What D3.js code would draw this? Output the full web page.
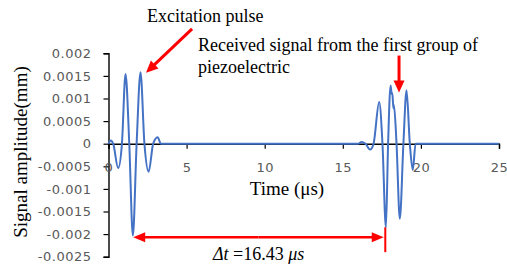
<!DOCTYPE html>
<html><head><meta charset="utf-8">
<script src="https://cdn.jsdelivr.net/npm/d3@7/dist/d3.min.js"></script>
<style>body{margin:0;background:#fff}</style>
</head><body><svg id="c" width="507" height="268"></svg>
<script>
// Signal: time (µs) and amplitude (mm)
const timeUs = [0, 0.15, 0.3, 0.62, 0.86, 1.09, 1.33, 1.56, 1.8, 2.05, 2.3, 2.57, 2.86, 3.15, 3.35,
  16.0, 16.2, 16.45, 16.75, 16.97, 17.33, 17.54, 17.76, 17.9, 18.06, 18.13, 18.17, 18.24, 18.27, 18.44,
  18.65, 18.88, 19.08, 19.29, 19.48, 19.66, 25];
const amplitudeMm = [0, 0.00007, 0, -0.00054, 0, 0.00154, 0, -0.00203, 0, 0.00158, 0, -0.00062, 0, 0.00014, 0,
  0, 0.00004, 0, -0.00013, 0, 0.00092, 0, -0.00185, 0, 0.00129, 0.0011, 0.00112, 0.00078, 0.00086, 0,
  -0.00166, 0, 0.00118, 0, -0.00058, 0, 0];
const xTicks = [0, 5, 10, 15, 20, 25];
const yTicks = [0.002, 0.0015, 0.001, 0.0005, 0, -0.0005, -0.001, -0.0015, -0.002, -0.0025];
const yTickLabels = ["0.002", "0.0015", "0.001", "0.0005", "0", "-0.0005", "-0.001", "-0.0015", "-0.002", "-0.0025"];
const xTitle = "Time (μs)";
const yTitle = "Signal amplitude(mm)";

const svg = d3.select("#c");
const x = d3.scaleLinear().domain([0, 25]).range([108.5, 499]);
const y = d3.scaleLinear().domain([-0.0025, 0.002]).range([256.7, 53.3]);

// y axis
const yAxis = svg.append("g").attr("transform", `translate(${x(0)},0)`)
  .call(d3.axisLeft(y).tickValues(yTicks).tickFormat((d, i) => yTickLabels[i]).tickSizeOuter(0).tickSize(5).tickPadding(12));
// x axis at zero
const xAxis = svg.append("g").attr("transform", `translate(0,${y(0)})`)
  .call(d3.axisBottom(x).tickValues(xTicks).tickFormat(d3.format("d")).tickSizeOuter(0).tickSize(5).tickPadding(14));
[yAxis, xAxis].forEach(g => {
  g.select(".domain").attr("stroke", "#000").attr("stroke-width", 1.4);
  g.selectAll(".tick line").attr("stroke", "#000").attr("stroke-width", 1.2);
  g.selectAll(".tick text").attr("fill", "#595959").style("font-family", "DejaVu Sans").style("font-size", "13px").style("letter-spacing", "0.5px");
});

// signal line
const pts = timeUs.map((t, i) => [t, amplitudeMm[i]]);
svg.append("path").datum(pts)
  .attr("d", d3.line().x(d => x(d[0])).y(d => y(d[1])).curve(d3.curveMonotoneX))
  .attr("fill", "none").attr("stroke", "#4472C4").attr("stroke-width", 2).attr("stroke-linejoin", "round");

// annotations
const red = "#FF0000";
function arrow(x1, y1, x2, y2, w, hl, hw) {
  const dx = x2 - x1, dy = y2 - y1, L = Math.hypot(dx, dy), ux = dx / L, uy = dy / L;
  const bx = x2 - ux * hl, by = y2 - uy * hl;
  svg.append("line").attr("x1", x1).attr("y1", y1).attr("x2", bx + ux).attr("y2", by + uy)
    .attr("stroke", red).attr("stroke-width", w);
  svg.append("polygon").attr("points", [[x2, y2], [bx - uy * hw / 2, by + ux * hw / 2], [bx + uy * hw / 2, by - ux * hw / 2]].map(p => p.join(",")).join(" "))
    .attr("fill", red);
}
arrow(x(5.35), y(0.00254), x(2.4), y(0.00157), 3, 12, 11);
arrow(x(18.6), y(0.00195), x(18.6), y(0.00113), 3, 12, 11);
// delta t double arrow
const dtY = y(-0.00207), xa = x(1.58), xb = x(17.62);
arrow((xa + xb) / 2, dtY, xa, dtY, 2.5, 12, 10);
arrow((xa + xb) / 2, dtY, xb, dtY, 2.5, 12, 10);
svg.append("line").attr("x1", x(17.72)).attr("x2", x(17.72)).attr("y1", y(-0.00185)).attr("y2", y(-0.0024))
  .attr("stroke", red).attr("stroke-width", 2);

const serif = "Liberation Serif";
function txt(s, tx, ty, size, anchor) {
  return svg.append("text").attr("x", tx).attr("y", ty).attr("text-anchor", anchor || "start")
    .style("font-family", serif).style("font-size", size + "px").attr("fill", "#000").text(s);
}
txt("Excitation pulse", 147, 22, 18);
txt("Received signal from the first group of", 198, 51, 18);
txt("piezoelectric", 198, 73, 18);
txt(xTitle, 287, 195, 19, "middle");
svg.append("text").attr("transform", "translate(27,152) rotate(-90)").attr("text-anchor", "middle")
  .style("font-family", serif).style("font-size", "19px").text(yTitle);
const dt = svg.append("text").attr("x", 213).attr("y", 260).style("font-family", serif).style("font-size", "18px");
dt.append("tspan").style("font-style", "italic").text("Δt");
dt.append("tspan").text(" =16.43 ");
dt.append("tspan").style("font-style", "italic").text("μs");
</script></body></html>
